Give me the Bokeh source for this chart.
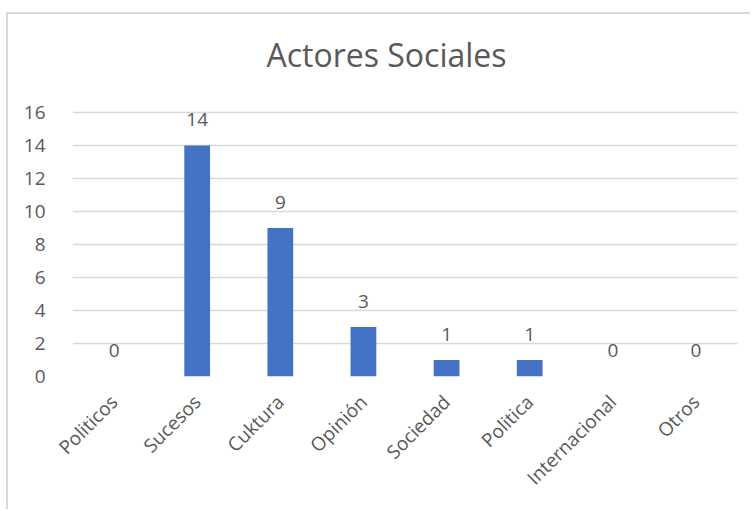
import math
from bokeh.plotting import figure
from bokeh.models import ColumnDataSource, Label, FixedTicker
from bokeh.core.properties import value
from bokeh.embed import file_html
from bokeh.resources import INLINE

categories = ["Politicos", "Sucesos", "Cuktura", "Opinión", "Sociedad", "Politica", "Internacional", "Otros"]
counts = [0, 14, 9, 3, 1, 1, 0, 0]
y_ticks = [0, 2, 4, 6, 8, 10, 12, 14, 16]
title_text = "Actores Sociales"

FONT = "Open Sans"
TXT = "#595959"
GRID = "#d9d9d9"

src = ColumnDataSource(dict(cat=categories, val=counts, lab=[str(v) for v in counts]))

# frame extended above the 16 gridline so the title sits inside it
p = figure(x_range=categories, y_range=(0, 21.576), width=744, height=497,
           output_backend="svg", toolbar_location=None,
           min_border_left=64, min_border_right=15, min_border_top=6, min_border_bottom=135)
p.styles = {"margin-top": "12px", "margin-left": "6px",
            "border-top": "2px solid #d9d9d9", "border-left": "2px solid #d9d9d9"}
p.title = None
p.outline_line_color = None
p.background_fill_color = "white"
p.border_fill_color = "white"

p.vbar(x="cat", top="val", width=0.31, source=src, fill_color="#4472C4", line_color=None)
p.text(x="cat", y="val", text="lab", source=src, text_align="center", text_baseline="alphabetic",
       y_offset=-26, text_font=value(FONT), text_font_size="19px", text_color=TXT)

p.yaxis.ticker = FixedTicker(ticks=y_ticks)
p.yaxis.axis_line_color = None
p.yaxis.major_tick_line_color = None
p.yaxis.minor_tick_line_color = None
p.yaxis.major_label_standoff = 21
p.yaxis.major_label_text_font = FONT
p.yaxis.major_label_text_font_size = "19px"
p.yaxis.major_label_text_color = TXT

p.xaxis.axis_line_color = None
p.xaxis.major_tick_line_color = None
p.xaxis.major_label_orientation = math.pi / 4
p.xaxis.major_label_standoff = 16
p.xaxis.major_label_text_font = FONT
p.xaxis.major_label_text_font_size = "19px"
p.xaxis.major_label_text_color = TXT

p.xgrid.grid_line_color = None
p.ygrid.grid_line_color = GRID
p.ygrid.grid_line_width = 1.5

p.add_layout(Label(x=314, y=322, x_units="screen", y_units="screen", text=title_text,
                   text_align="center", text_baseline="alphabetic",
                   text_font=FONT, text_font_size="32px", text_color=TXT))

open("out.html", "w").write(file_html(p, INLINE))
